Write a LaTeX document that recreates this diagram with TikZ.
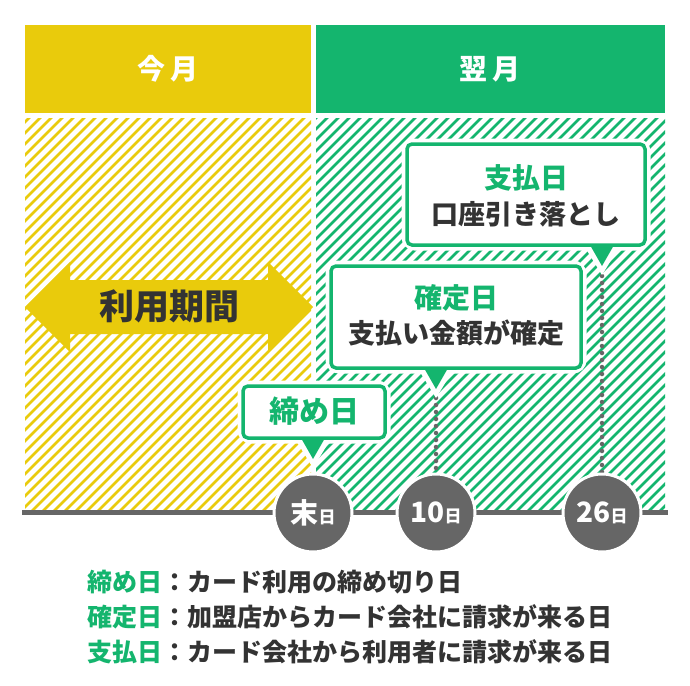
\documentclass[tikz,border=0pt]{standalone}
\usepackage{fontspec}
\setmainfont{Noto Sans CJK JP}
\begin{document}
\begin{tikzpicture}[x=1pt,y=-1pt,
  font=\bfseries,
  hdr/.style={white,font=\bfseries\fontsize{28}{30}\selectfont},
  day/.style={circle,fill=dgray,draw=white,line width=3pt,minimum size=78pt,inner sep=0pt,text=white,font=\bfseries\fontsize{28}{30}\selectfont},
  box/.style={draw=cgreen,line width=3.5pt,fill=white,rounded corners=5pt},
  halo/.style={draw=white,line width=11pt,rounded corners=8pt},
  dots/.style={dgray,line width=4.5pt,dash pattern=on 0pt off 7pt,line cap=round},
  leg/.style={anchor=west,font=\bfseries\fontsize{25}{27}\selectfont,text=dtext}]
\definecolor{cyellow}{HTML}{E9CB0C}
\definecolor{cgreen}{HTML}{14B56E}
\definecolor{dgray}{HTML}{666666}
\definecolor{dtext}{HTML}{333333}
\useasboundingbox (0,0) rectangle (690,685);
\fill[white] (0,0) rectangle (690,685);
% headers
\fill[cyellow] (25,25) rectangle (311,113);
\fill[cgreen] (316,25) rectangle (665,113);
\node[hdr] (h1) at (168,69) {今\,月};
\node[hdr] (h2) at (490,69) {翌\,月};
% hatching
\begin{scope}
\clip (25,118) rectangle (311,512);
\foreach \i in {-420,-409,...,320} \draw[cyellow,line width=2.8pt] (\i,512)--(\i+400,112);
\end{scope}
\begin{scope}
\clip (316,118) rectangle (665,512);
\foreach \i in {-100,-89,...,670} \draw[cgreen,line width=2.8pt] (\i,512)--(\i+400,112);
\end{scope}
% arrow
\fill[cyellow] (25,307)--(70,262)--(70,280)--(268,280)--(268,262)--(313,307)--(268,352)--(268,334)--(70,334)--(70,352)--cycle;
\node[font=\bfseries\fontsize{35}{37}\selectfont,text=dtext] (p) at (169,306) {利用期間};
% dotted lines
\coordinate (d1) at (436,390);
\coordinate (d2) at (602,268);
\draw[dots] (436,398)--(436,475);
\draw[dots] (602,276)--(602,475);
% callouts
\newcommand{\callout}[5]{%
  \draw[halo] (#1,#2) rectangle (#3,#4);
  \fill[white] (#5-16,#4+4)--(#5,#4+30)--(#5+16,#4+4)--cycle;
  \draw[box] (#1,#2) rectangle (#3,#4);
  \fill[cgreen] (#5-12,#4)--(#5,#4+21)--(#5+12,#4)--cycle;}
\callout{407}{144}{645}{245}{602}
\callout{331}{266}{581}{368}{436}
\callout{243}{386}{385}{438}{313}
\node[text=cgreen,font=\bfseries\fontsize{30}{32}\selectfont] (c1) at (314,411) {締め日};
\node[text=cgreen,font=\bfseries\fontsize{28}{30}\selectfont] (c2) at (456,298) {確定日};
\node[text=dtext,font=\bfseries\fontsize{27}{29}\selectfont] (c2b) at (456,333) {支払い金額が確定};
\node[text=cgreen,font=\bfseries\fontsize{28}{30}\selectfont] (c3) at (526,178) {支払日};
\node[text=dtext,font=\bfseries\fontsize{27}{29}\selectfont] (c3b) at (526,214) {口座引き落とし};
% timeline
\draw[dgray,line width=5pt] (22,512)--(668,512);
\node[day] (e1) at (313,513) {末{\fontsize{17}{18}\selectfont 日}};
\node[day] (e2) at (436,513) {10{\fontsize{17}{18}\selectfont 日}};
\node[day] (e3) at (602,513) {26{\fontsize{17}{18}\selectfont 日}};
% legend
\node[leg] (l1) at (84,582) {\textcolor{cgreen}{締め日}：カード利用の締め切り日};
\node[leg] (l2) at (84,617) {\textcolor{cgreen}{確定日}：加盟店からカード会社に請求が来る日};
\node[leg] (l3) at (84,652) {\textcolor{cgreen}{支払日}：カード会社から利用者に請求が来る日};
\end{tikzpicture}
\end{document}
